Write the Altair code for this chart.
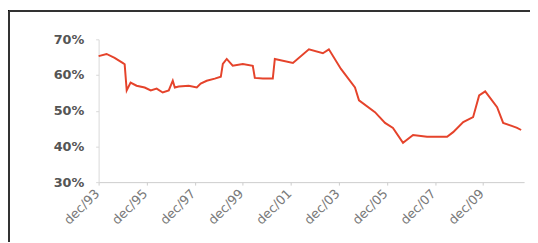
import altair as alt
import pandas as pd

dates = [
    "1993-12-01", "1994-04-01", "1994-08-01", "1994-12-01", "1995-01-01", "1995-02-01",
    "1995-04-01", "1995-07-01", "1995-11-01", "1996-02-01", "1996-05-01", "1996-08-01",
    "1996-11-01", "1997-01-01", "1997-02-01", "1997-04-01", "1997-09-01", "1998-01-01",
    "1998-03-01", "1998-06-01", "1998-10-01", "1999-01-01", "1999-02-01", "1999-04-01",
    "1999-07-01", "1999-12-01", "2000-05-01", "2000-06-01", "2000-10-01", "2001-03-01",
    "2001-04-01", "2002-01-01", "2002-09-01", "2003-04-01", "2003-07-01", "2004-01-01",
    "2004-08-01", "2004-10-01", "2005-06-01", "2005-11-01", "2006-03-01", "2006-08-01",
    "2007-01-01", "2007-08-01", "2008-06-01", "2008-09-01", "2009-02-01", "2009-07-01",
    "2009-10-01", "2010-01-01", "2010-07-01", "2010-10-01", "2011-05-01", "2011-07-01",
]
values = [
    65.3, 65.9, 64.8, 63.4, 63.0, 55.7,
    57.9, 57.0, 56.5, 55.7, 56.2, 55.1,
    55.7, 58.4, 56.5, 56.8, 57.0, 56.5,
    57.6, 58.4, 59.0, 59.5, 63.1, 64.5,
    62.6, 63.1, 62.6, 59.2, 59.0, 59.0,
    64.5, 63.4, 67.2, 66.1, 67.2, 61.7,
    56.5, 52.9, 49.6, 46.6, 45.2, 41.0,
    43.2, 42.7, 42.7, 44.0, 46.8, 48.2,
    54.3, 55.4, 51.0, 46.6, 45.2, 44.6,
]
tick_dates = ["1993-12-01", "1995-12-01", "1997-12-01", "1999-12-01", "2001-12-01",
              "2003-12-01", "2005-12-01", "2007-12-01", "2009-12-01"]
y_ticks = [30, 40, 50, 60, 70]

df = pd.DataFrame({"date": pd.to_datetime(dates), "value": values})

line = alt.Chart(df).mark_line(color="#e5432b", strokeWidth=2).encode(
    x=alt.X("date:T",
            scale=alt.Scale(domain=["1993-12-01", "2011-08-15"]),
            axis=alt.Axis(values=[pd.Timestamp(d).isoformat() for d in tick_dates],
                          labelExpr="'dec/' + timeFormat(datum.value, '%y')",
                          labelAngle=315, labelAlign="right", labelBaseline="top",
                          labelFont="DejaVu Sans", labelFontSize=13, labelColor="#7a7a7a",
                          domainColor="#cccccc", tickColor="#cccccc", tickSize=3,
                          grid=False, title=None, labelPadding=2, labelOffset=-6)),
    y=alt.Y("value:Q",
            scale=alt.Scale(domain=[30, 70], nice=False, zero=False),
            axis=alt.Axis(values=y_ticks, labelExpr="datum.value + '%'",
                          labelFont="DejaVu Sans", labelFontSize=13, labelFontWeight="bold",
                          labelColor="#555555", domainColor="#d8d8d8", tickColor="#d8d8d8",
                          tickSize=3, grid=False, title=None, labelPadding=12)),
)

frame_left = alt.Chart(df).mark_rule(color="#333333", strokeWidth=1.5).encode(
    x=alt.value(-91), y=alt.value(-29), y2=alt.value(205))
frame_top = alt.Chart(df).mark_rule(color="#333333", strokeWidth=1.5).encode(
    x=alt.value(-91), x2=alt.value(440), y=alt.value(-29))

chart = alt.layer(frame_left, frame_top, line).properties(
    width=432, height=145,
    autosize=alt.AutoSizeParams(type="none"),
    padding={"left": 92, "top": 30, "right": 6, "bottom": 60},
).configure_view(stroke=None)

chart.save("out.html", embed_options={"renderer": "svg", "actions": False})
